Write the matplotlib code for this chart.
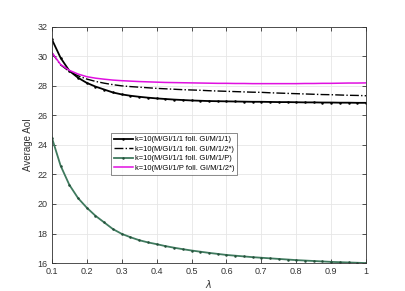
import numpy as np
import matplotlib
matplotlib.use('Agg')
import matplotlib.pyplot as plt

plt.rcParams['font.family'] = ['Liberation Sans', 'DejaVu Sans']

# lambda grid
lam = [0.100, 0.125, 0.150, 0.175, 0.200, 0.225, 0.250, 0.275, 0.300, 0.325,
       0.350, 0.375, 0.400, 0.425, 0.450, 0.475, 0.500, 0.525, 0.550, 0.575,
       0.600, 0.625, 0.650, 0.675, 0.700, 0.725, 0.750, 0.775, 0.800, 0.825,
       0.850, 0.875, 0.900, 0.925, 0.950, 0.975, 1.000]

# k=10 (M/GI/1/1 foll. GI/M/1/1)
aoi_11 = [31.15, 29.90, 29.02, 28.55, 28.20, 27.95, 27.75, 27.55, 27.42, 27.33,
          27.26, 27.20, 27.15, 27.11, 27.07, 27.04, 27.01, 26.99, 26.97, 26.96,
          26.95, 26.94, 26.93, 26.92, 26.92, 26.91, 26.90, 26.90, 26.89, 26.88,
          26.88, 26.87, 26.87, 26.86, 26.86, 26.85, 26.85]

# k=10 (M/GI/1/1 foll. GI/M/1/2*)
aoi_12 = [30.25, 29.42, 28.98, 28.68, 28.46, 28.30, 28.18, 28.08, 28.00, 27.95,
          27.91, 27.87, 27.83, 27.80, 27.77, 27.74, 27.72, 27.70, 27.67, 27.65,
          27.63, 27.61, 27.59, 27.57, 27.56, 27.53, 27.51, 27.49, 27.47, 27.45,
          27.43, 27.41, 27.40, 27.38, 27.36, 27.35, 27.33]

# k=10 (M/GI/1/1 foll. GI/M/1/P)
aoi_1p = [24.50, 22.60, 21.30, 20.40, 19.75, 19.20, 18.75, 18.30, 17.98, 17.75,
          17.55, 17.40, 17.28, 17.15, 17.04, 16.94, 16.85, 16.77, 16.69, 16.62,
          16.55, 16.50, 16.45, 16.40, 16.36, 16.32, 16.28, 16.24, 16.20, 16.17,
          16.14, 16.11, 16.08, 16.06, 16.04, 16.02, 16.00]

# k=10 (M/GI/1/P foll. GI/M/1/2*)
aoi_p2 = [30.25, 29.45, 29.05, 28.80, 28.62, 28.52, 28.45, 28.39, 28.35, 28.32,
          28.29, 28.27, 28.25, 28.23, 28.22, 28.21, 28.20, 28.19, 28.18, 28.17,
          28.17, 28.16, 28.16, 28.15, 28.15, 28.15, 28.15, 28.15, 28.15, 28.16,
          28.16, 28.17, 28.17, 28.18, 28.19, 28.19, 28.20]

etiquetas = ['k=10(M/GI/1/1 foll. GI/M/1/1)',
             'k=10(M/GI/1/1 foll. GI/M/1/2*)',
             'k=10(M/GI/1/1 foll. GI/M/1/P)',
             'k=10(M/GI/1/P foll. GI/M/1/2*)']

fig = plt.figure(figsize=(4.05, 2.91), dpi=100)
ax = fig.add_axes([0.128, 0.096, 0.776, 0.812])

ax.plot(lam, aoi_11, color='k', lw=1.3, marker='.', ms=1.6, label=etiquetas[0])
ax.plot(lam, aoi_12, color='k', lw=1.0, ls='-.', label=etiquetas[1])
ax.plot(lam, aoi_1p, color='#3f7a5e', lw=1.3, marker='.', ms=1.6,
        mec='#24503a', mfc='#24503a', label=etiquetas[2])
ax.plot(lam, aoi_p2, color='#e010e0', lw=1.1, label=etiquetas[3])

ax.set_xlim(0.1, 1)
ax.set_ylim(16, 32)
ax.set_xticks([0.1, 0.2, 0.3, 0.4, 0.5, 0.6, 0.7, 0.8, 0.9, 1])
ax.set_xticklabels(['0.1', '0.2', '0.3', '0.4', '0.5', '0.6', '0.7', '0.8', '0.9', '1'])
ax.set_yticks(np.arange(16, 33, 2))

ax.grid(True, color='#e6e6e6', lw=0.6)
ax.set_axisbelow(True)
ax.tick_params(direction='in', length=3, width=0.6, labelsize=6.5,
               colors='#333333', top=True, right=True, pad=3)
for s in ax.spines.values():
    s.set_linewidth(0.6)
    s.set_color('#333333')

ax.set_xlabel(r'$\lambda$', fontsize=7, color='#333333', labelpad=1)
ax.set_ylabel('Average AoI', fontsize=7, color='#333333', labelpad=3)

leg = ax.legend(loc='upper left', bbox_to_anchor=(0.188, 0.55), fontsize=5.4,
                frameon=True, fancybox=False, edgecolor='#333333',
                handlelength=2.5, handletextpad=0.3, borderpad=0.4,
                labelspacing=0.3, borderaxespad=0)
leg.get_frame().set_linewidth(0.5)

fig.savefig('out.png', dpi=100)
